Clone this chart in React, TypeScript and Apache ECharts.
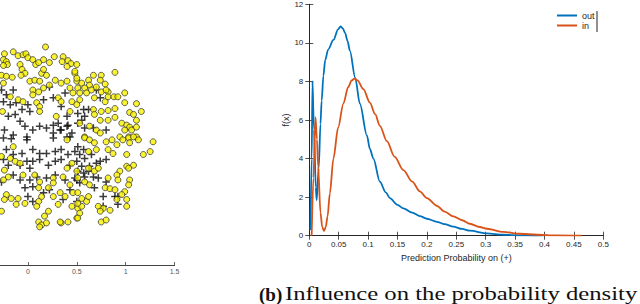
import React, { useEffect, useRef } from "react";
import * as echarts from "echarts";

// ---- Right panel: probability density curves ----
const xTicks = [0, 0.05, 0.1, 0.15, 0.2, 0.25, 0.3, 0.35, 0.4, 0.45, 0.5];
const yTicks = [0, 2, 4, 6, 8, 10, 12];

const outX = [0.002, 0.004, 0.0055, 0.0065, 0.008, 0.011, 0.0125, 0.016, 0.019, 0.021, 0.024, 0.027, 0.032, 0.041, 0.049, 0.053, 0.057, 0.061, 0.065, 0.069, 0.078, 0.086, 0.098, 0.103, 0.109, 0.12, 0.13, 0.137, 0.15, 0.16, 0.175, 0.188, 0.2, 0.217, 0.23, 0.245, 0.26, 0.273, 0.302, 0.33, 0.358, 0.398];
const outY = [0.3, 4.0, 8.0, 8.0, 5.5, 2.5, 1.85, 3.5, 5.8, 7.0, 8.3, 9.1, 9.65, 10.15, 10.7, 10.85, 10.75, 10.5, 10.1, 9.6, 8.2, 6.85, 5.2, 4.5, 4.0, 2.8, 2.25, 1.95, 1.6, 1.42, 1.2, 1.02, 0.88, 0.72, 0.6, 0.47, 0.35, 0.26, 0.12, 0.05, 0.02, 0];

const inX = [0.004, 0.007, 0.0105, 0.013, 0.015, 0.019, 0.022, 0.025, 0.028, 0.031, 0.035, 0.041, 0.049, 0.058, 0.066, 0.072, 0.077, 0.082, 0.092, 0.103, 0.112, 0.12, 0.132, 0.145, 0.16, 0.175, 0.188, 0.2, 0.217, 0.23, 0.245, 0.26, 0.273, 0.29, 0.302, 0.33, 0.358, 0.387, 0.42, 0.463];
const inY = [0, 3.0, 6.15, 5.0, 3.6, 1.2, 0.45, 0.25, 0.45, 1.0, 2.2, 4.0, 5.6, 6.85, 7.7, 8.05, 8.15, 8.05, 7.6, 6.9, 6.3, 5.7, 4.9, 4.1, 3.4, 2.8, 2.3, 1.95, 1.55, 1.25, 1.0, 0.8, 0.62, 0.45, 0.36, 0.2, 0.1, 0.05, 0.02, 0];

const seriesNames = ["out", "in"];

// ---- Left panel: scatter (partially visible) ----
const scatterXTicks = [0, 0.5, 1, 1.5];

const crossPoints: [number, number][] = [
  [-0.27, 0.51], [-0.22, 0.46], [-0.15, 0.51], [-0.25, 0.39], [-0.18, 0.36], [-0.12, 0.38], [-0.2, 0.24], [-0.13, 0.26],
  [-0.06, 0.31], [0.0, 0.36], [0.02, 0.29], [-0.08, 0.19], [-0.03, 0.14], [0.05, 0.1], [0.12, 0.14], [0.19, 0.12],
  [0.26, 0.15], [0.33, 0.1], [0.4, 0.14], [0.45, 0.07], [0.51, 0.17], [0.26, 0.43], [0.34, 0.34], [0.4, 0.24],
  [-0.24, 0.1], [-0.15, 0.05], [-0.01, 0.03], [0.22, 0.54], [0.16, 0.41], [0.38, 0.48],
  [0.57, 0.31], [0.62, 0.31], [0.51, 0.27], [0.58, 0.24], [0.7, 0.51], [0.74, 0.43], [0.58, 0.12], [0.8, 0.1],
  [0.67, 0.12], [0.55, 0.2],
  [-0.25, 0.02], [-0.17, 0.01], [-0.01, 0.0], [0.26, 0.02], [0.4, 0.03], [-0.22, -0.1], [-0.15, -0.15], [-0.06, -0.14],
  [0.05, -0.1], [0.12, -0.14], [0.28, -0.12], [0.34, -0.1], [0.41, -0.15], [0.48, -0.12], [-0.25, -0.2], [-0.2, -0.26],
  [-0.08, -0.26], [-0.01, -0.22], [0.05, -0.22], [0.12, -0.2], [0.21, -0.26], [0.28, -0.22], [0.34, -0.2], [0.43, -0.26],
  [0.5, -0.22], [-0.15, -0.36], [-0.08, -0.41], [0.02, -0.41], [0.09, -0.38], [0.19, -0.39], [0.28, -0.36], [0.38, -0.41],
  [0.48, -0.39], [-0.03, -0.49], [0.05, -0.48], [0.16, -0.54], [0.22, -0.51], [0.43, -0.51], [0.0, -0.58], [0.05, -0.63],
  [0.36, -0.61], [0.5, -0.63], [0.02, -0.29], [-0.27, -0.43],
  [0.51, -0.07], [0.57, -0.1], [0.53, -0.15], [0.58, -0.19], [0.65, -0.15], [0.74, -0.22], [0.8, -0.2], [0.55, -0.27],
  [0.62, -0.32], [0.67, -0.38], [0.72, -0.39], [0.58, -0.38], [0.51, -0.32], [0.53, -0.44], [0.68, -0.49], [0.89, -0.58],
  [0.92, -0.66], [0.77, -0.68], [0.8, -0.43],
  [0.26, 0.07], [0.31, 0.17], [0.41, 0.15], [0.34, 0.1], [0.43, 0.03], [0.63, -0.27], [0.7, -0.24], [0.57, -0.34],
  [0.5, -0.41], [0.77, -0.58], [0.92, -0.58], [0.19, -0.14],
];

const dotPoints: [number, number][] = [
  [0.18, 0.95], [-0.24, 0.88], [-0.15, 0.9], [-0.1, 0.86], [-0.05, 0.87], [-0.02, 0.88], [-0.25, 0.82], [-0.22, 0.8],
  [-0.21, 0.77], [-0.25, 0.76], [0.0, 0.84], [0.05, 0.82], [0.08, 0.77], [0.11, 0.79], [0.16, 0.82], [0.22, 0.79],
  [0.27, 0.85], [0.36, 0.85], [0.35, 0.8], [0.41, 0.81], [0.44, 0.78], [0.4, 0.75], [-0.08, 0.77], [-0.06, 0.72],
  [-0.03, 0.68], [-0.07, 0.66], [-0.27, 0.66], [-0.22, 0.65], [-0.16, 0.64], [-0.25, 0.58], [0.02, 0.6], [0.07, 0.61],
  [0.14, 0.68], [0.16, 0.72], [0.19, 0.66], [0.12, 0.6], [0.22, 0.56], [0.16, 0.53], [0.05, 0.51], [0.11, 0.49],
  [0.28, 0.61], [0.34, 0.58], [0.4, 0.6], [0.43, 0.53], [0.48, 0.68], [0.5, 0.6], [0.46, 0.48], [0.31, 0.43],
  [0.34, 0.39], [0.45, 0.39], [-0.1, 0.41], [-0.05, 0.39], [-0.26, 0.29], [0.09, 0.38], [0.12, 0.34], [0.12, 0.29],
  [0.05, 0.46], [-0.18, 0.44], [0.43, 0.29], [0.29, 0.24],
  [0.89, 0.69], [0.48, 0.7], [0.5, 0.77], [0.67, 0.66], [0.75, 0.66], [0.74, 0.61], [0.79, 0.57], [0.5, 0.63],
  [0.55, 0.58], [0.62, 0.61], [0.63, 0.56], [0.58, 0.53], [0.51, 0.53], [0.53, 0.48], [0.6, 0.48], [0.65, 0.51],
  [0.7, 0.54], [0.75, 0.49], [0.82, 0.49], [0.68, 0.43], [0.79, 0.39], [0.82, 0.44], [0.88, 0.44], [0.92, 0.44],
  [0.99, 0.48], [0.99, 0.38], [1.11, 0.37], [1.16, 0.29], [1.04, 0.28], [1.08, 0.26], [1.11, 0.2], [0.89, 0.32],
  [0.82, 0.3], [0.75, 0.29], [0.67, 0.31], [0.68, 0.26], [0.74, 0.2], [0.82, 0.2], [0.89, 0.23], [0.53, 0.17],
  [0.5, 0.36], [0.53, 0.41], [0.96, 0.17], [1.01, 0.15], [1.04, 0.13], [0.99, 0.1], [1.06, 0.1], [1.11, 0.13],
  [0.63, 0.14], [0.7, 0.1], [0.74, 0.07], [0.58, 0.03], [0.94, 0.03], [1.03, 0.03], [1.11, 0.03],
  [0.4, 0.0], [-0.15, -0.07], [-0.27, -0.17], [-0.18, -0.19], [-0.13, -0.22], [-0.08, -0.24], [-0.24, -0.31], [-0.2, -0.38],
  [-0.25, -0.41], [-0.05, -0.36], [0.07, -0.36], [0.12, -0.43], [0.11, -0.49], [0.14, -0.58], [0.21, -0.49], [0.26, -0.39],
  [0.36, -0.38], [0.4, -0.29], [0.45, -0.24], [0.5, -0.32], [0.43, -0.46], [0.33, -0.54], [0.38, -0.58], [0.26, -0.58],
  [0.46, -0.54], [0.31, -0.66], [0.45, -0.68], [0.51, -0.7], [-0.22, -0.56], [-0.17, -0.6], [-0.24, -0.61], [-0.1, -0.6],
  [-0.03, -0.65], [-0.12, -0.66], [0.11, -0.63], [0.09, -0.68], [0.21, -0.73], [-0.27, -0.73], [0.17, -0.78], [0.11, -0.84],
  [0.14, -0.87], [0.19, -0.85], [0.34, -0.85], [0.41, -0.84], [0.5, -0.8], [0.26, -0.44],
  [0.58, 0.02], [0.63, 0.0], [0.68, -0.03], [0.8, -0.02], [0.86, 0.0], [0.91, -0.05], [0.97, 0.0], [1.03, 0.02],
  [1.08, 0.03], [1.13, 0.0], [1.04, -0.03], [1.28, -0.02], [1.25, -0.12], [1.18, -0.15], [1.01, -0.15], [0.82, -0.1],
  [0.87, -0.14], [0.62, -0.12], [0.7, -0.1], [1.01, -0.27], [1.08, -0.26], [1.03, -0.29], [0.94, -0.32], [0.91, -0.36],
  [0.92, -0.41], [1.04, -0.41], [1.03, -0.46], [0.82, -0.39], [0.79, -0.49], [0.84, -0.5], [0.89, -0.51], [0.99, -0.53],
  [0.96, -0.56], [1.01, -0.61], [1.01, -0.68], [0.84, -0.72], [0.77, -0.7], [0.72, -0.68], [0.74, -0.73], [0.75, -0.84],
  [0.8, -0.82], [0.53, -0.75], [0.51, -0.8], [0.55, -0.68], [0.6, -0.63], [0.55, -0.6], [0.51, -0.54], [0.62, -0.58],
  [0.51, -0.65], [0.63, -0.46], [0.68, -0.32], [0.72, -0.29], [0.62, -0.29], [0.51, -0.39], [0.58, -0.43],
  [0.91, -0.61], [0.8, 0.51], [0.12, -0.89], [0.33, -0.84],
];

const captionBold = "(b)";
const captionText = "Influence on the probability density";

const PLUS =
  "path://M-0.2,-1H0.2V-0.2H1V0.2H0.2V1H-0.2V0.2H-1V-0.2H-0.2Z";

const AX = "#262626";
const SANS = "'Liberation Sans', Arial, Helvetica, sans-serif";
const SERIF = "'Liberation Serif', 'Times New Roman', serif";

export default function App() {
  const ref = useRef<HTMLDivElement>(null);

  useEffect(() => {
    if (!ref.current) return;
    const chart = echarts.init(ref.current, undefined, { renderer: "svg" });
    const fmt = (v: number) => String(Number(v.toFixed(2)));
    const outData = outX.map((x, i) => [x, outY[i]]);
    const inData = inX.map((x, i) => [x, inY[i]]);

    chart.setOption({
      animation: false,
      backgroundColor: "#ffffff",
      textStyle: { fontFamily: SANS },
      grid: [
        { left: 309.3, right: 36.7, top: 4.3, bottom: 68.3, outerBoundsMode: "none", containLabel: false },
        { left: -21, width: 195.6, top: 0, bottom: 39, outerBoundsMode: "none", containLabel: false },
      ],
      legend: {
        data: seriesNames,
        orient: "vertical",
        left: 557,
        top: 10.5,
        itemWidth: 20,
        itemHeight: 2,
        itemGap: 0,
        padding: 0,
        icon: "rect",
        textStyle: { fontSize: 9, color: AX, fontFamily: SANS, lineHeight: 10 },
      },
      xAxis: [
        {
          type: "value",
          gridIndex: 0,
          min: xTicks[0],
          max: xTicks[xTicks.length - 1],
          interval: 0.05,
          position: "bottom",
          axisLine: { show: false },
          axisTick: { show: true, inside: true, length: 4, lineStyle: { color: AX, width: 0.8 } },
          axisLabel: { fontSize: 8, color: AX, margin: 5, formatter: fmt, fontFamily: SANS },
          splitLine: { show: false },
          name: "Prediction Probability on (+)",
          nameLocation: "middle",
          nameGap: 12,
          nameTextStyle: { fontSize: 9, color: AX, fontFamily: SANS },
        },
        {
          type: "value",
          gridIndex: 0,
          min: xTicks[0],
          max: xTicks[xTicks.length - 1],
          interval: 0.05,
          position: "top",
          axisLine: { show: true, lineStyle: { color: AX, width: 1 } },
          axisTick: { show: true, inside: true, length: 4, lineStyle: { color: AX, width: 0.8 } },
          axisLabel: { show: false },
          splitLine: { show: false },
        },
        {
          type: "value",
          gridIndex: 1,
          min: -0.5,
          max: scatterXTicks[scatterXTicks.length - 1],
          interval: 0.5,
          position: "bottom",
          axisLine: { show: true, onZero: false, lineStyle: { color: "#444", width: 1 } },
          axisTick: { show: true, inside: true, length: 3, lineStyle: { color: "#444", width: 0.8 } },
          axisLabel: { fontSize: 7, color: "#555", margin: 3, formatter: fmt, fontFamily: SANS, showMinLabel: false },
          splitLine: { show: false },
        },
      ],
      yAxis: [
        {
          type: "value",
          gridIndex: 0,
          min: yTicks[0],
          max: yTicks[yTicks.length - 1],
          interval: 2,
          axisLine: { show: false },
          axisTick: { show: true, inside: true, length: 4, lineStyle: { color: AX, width: 0.8 } },
          axisLabel: { fontSize: 8, color: AX, margin: 6, fontFamily: SANS },
          splitLine: { show: false },
          name: "f(x)",
          nameLocation: "middle",
          nameGap: 14,
          nameRotate: 90,
          nameTextStyle: { fontSize: 9, color: AX, fontFamily: SANS },
        },
        {
          type: "value",
          gridIndex: 0,
          position: "right",
          min: yTicks[0],
          max: yTicks[yTicks.length - 1],
          interval: 2,
          axisLine: { show: true, lineStyle: { color: AX, width: 1 } },
          axisTick: { show: true, inside: true, length: 4, lineStyle: { color: AX, width: 0.8 } },
          axisLabel: { show: false },
          splitLine: { show: false },
        },
        {
          type: "value",
          gridIndex: 1,
          min: -1.28,
          max: 1.43,
          show: false,
          axisLine: { onZero: false },
          splitLine: { show: false },
        },
      ],
      series: [
        {
          name: "out",
          type: "line",
          xAxisIndex: 0,
          yAxisIndex: 0,
          data: outData,
          symbol: "none",
          smooth: 0.3,
          smoothMonotone: "x",
          color: "#0072BD",
          lineStyle: { width: 1.8, color: "#0072BD" },
          z: 3,
        },
        {
          name: "in",
          type: "line",
          xAxisIndex: 0,
          yAxisIndex: 0,
          data: inData,
          symbol: "none",
          smooth: 0.3,
          smoothMonotone: "x",
          color: "#D95319",
          lineStyle: { width: 1.8, color: "#D95319" },
          z: 3,
        },
        {
          name: "cross",
          type: "scatter",
          xAxisIndex: 2,
          yAxisIndex: 2,
          data: crossPoints,
          symbol: PLUS,
          symbolSize: 7.5,
          itemStyle: { color: "#0a0a0a" },
          z: 2,
        },
        {
          name: "dot",
          type: "scatter",
          xAxisIndex: 2,
          yAxisIndex: 2,
          data: dotPoints,
          symbol: "circle",
          symbolSize: 6,
          itemStyle: { color: "#f7f000", borderColor: "#2a2a2a", borderWidth: 0.9 },
          z: 2,
        },
      ],
      graphic: [
        {
          type: "line",
          shape: { x1: 597, y1: 11, x2: 597, y2: 32 },
          style: { stroke: "#222", lineWidth: 1 },
        },
        {
          type: "text",
          x: 259,
          y: 294,
          style: {
            text: captionBold,
            font: `bold 19px ${SERIF}`,
            fill: "#111",
            verticalAlign: "middle",
          },
        },
        {
          type: "text",
          x: 285,
          y: 294,
          scaleX: 1.3,
          style: {
            text: captionText,
            font: `19px ${SERIF}`,
            fill: "#111",
            verticalAlign: "middle",
          },
        },
      ],
    });
    return () => chart.dispose();
  }, []);

  return (
    <div
      ref={ref}
      style={{ position: "absolute", left: 0, top: 0, width: 640, height: 304 }}
    />
  );
}
